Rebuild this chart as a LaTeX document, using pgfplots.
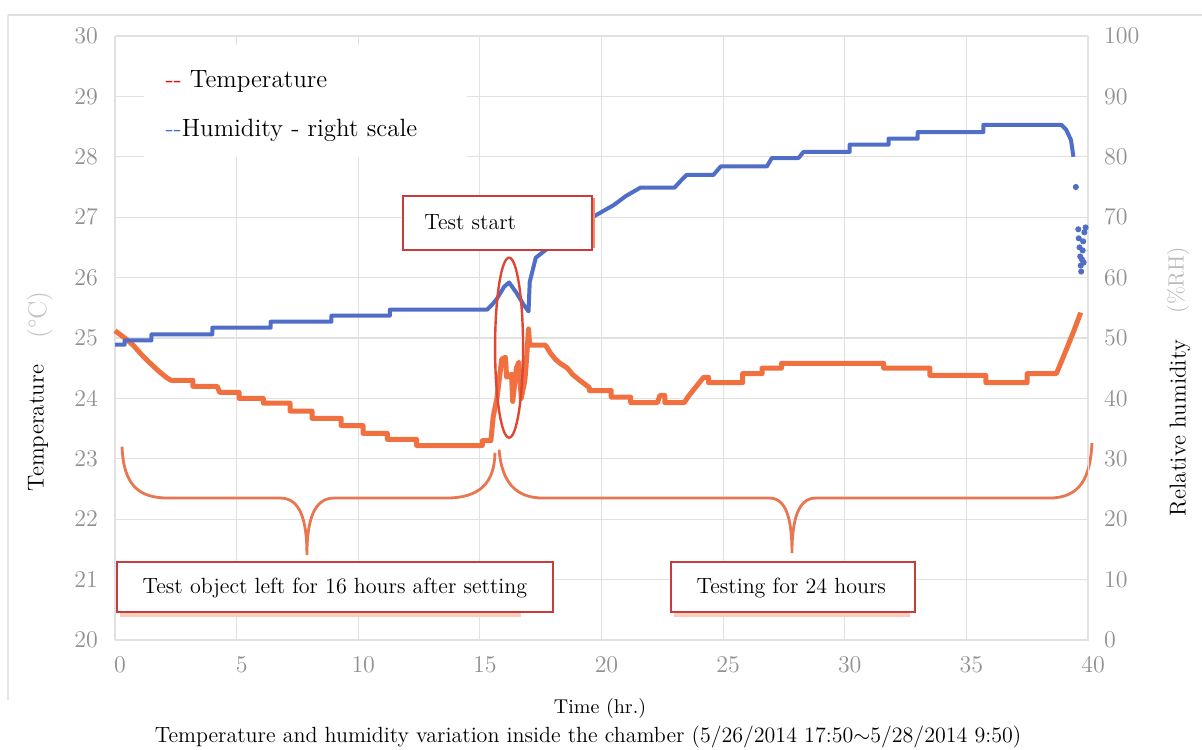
\documentclass[border=0pt]{standalone}
\usepackage{pgfplots}
\pgfplotsset{compat=1.18}
\definecolor{tempc}{RGB}{240,112,64}
\definecolor{humc}{RGB}{80,110,200}
\definecolor{bracec}{RGB}{232,118,80}
\definecolor{ellc}{RGB}{225,70,50}
\definecolor{boxc}{RGB}{200,60,60}
\definecolor{legred}{RGB}{255,0,0}
\definecolor{legblue}{RGB}{68,114,196}
\definecolor{gridc}{RGB}{225,225,225}
\definecolor{tickc}{RGB}{145,145,145}

\begin{document}
\begin{tikzpicture}
\useasboundingbox (-57.5pt,-54.5pt) rectangle (543.5pt,320pt);
\fill[white] (-57.5pt,-54.5pt) rectangle (543.5pt,320pt);
% faint frame of the scanned page
\draw[gray!25, line width=0.8pt] (-53.5pt,312.5pt) -- (543.5pt,312.5pt);
\draw[gray!18, line width=0.8pt] (-53.5pt,312.5pt) -- (-53.5pt,-30pt);

% temperature, left scale
\begin{axis}[
  scale only axis, width=486.5pt, height=302pt,
  xmin=0, xmax=40, ymin=20, ymax=30,
  xtick={0,5,...,40}, ytick={20,21,...,30},
  grid=major, major grid style={gridc, line width=0.6pt},
  axis line style={gridc}, major tick length=0pt,
  ticklabel style={font=\fontsize{13}{15}\selectfont, text=tickc},
  yticklabel style={xshift=-5pt},
  xticklabel style={yshift=-5pt, xshift=2.5pt},
  clip=false,
]
\addplot[tempc, line width=2.5pt, line join=round] coordinates {
(0,25.12)(0.4,25.0)(0.75,24.88)(1.1,24.72)(1.4,24.6)(1.8,24.45)(2.1,24.35)
(2.3,24.3)(3.2,24.3)(3.2,24.2)(4.2,24.2)(4.3,24.1)(5.1,24.1)(5.1,24.0)
(6.1,24.0)(6.1,23.92)(7.2,23.92)(7.2,23.79)(8.1,23.79)(8.1,23.67)(9.3,23.67)
(9.3,23.55)(10.2,23.55)(10.2,23.42)(11.2,23.42)(11.2,23.32)(12.4,23.32)
(12.4,23.22)(15.1,23.22)(15.1,23.3)(15.45,23.3)(15.55,23.7)(15.7,24.0)
(15.9,24.65)(16.05,24.68)(16.1,24.35)(16.3,24.4)(16.35,23.95)(16.5,24.5)
(16.6,24.6)(16.7,24.0)(16.85,24.3)(16.9,24.55)(17.0,25.15)(17.05,24.88)
(17.7,24.88)(17.9,24.75)(18.1,24.65)(18.3,24.58)(18.6,24.5)(18.8,24.4)
(19.1,24.3)(19.5,24.18)(19.5,24.13)(20.4,24.13)(20.4,24.02)(21.2,24.02)
(21.2,23.93)(22.3,23.93)(22.4,24.05)(22.6,24.05)(22.6,23.93)(23.4,23.93)
(23.6,24.05)(23.9,24.2)(24.2,24.35)(24.4,24.35)(24.4,24.26)(25.8,24.26)
(25.8,24.41)(26.6,24.41)(26.6,24.5)(27.4,24.5)(27.4,24.58)(31.6,24.58)
(31.6,24.5)(33.5,24.5)(33.5,24.38)(35.8,24.38)(35.8,24.26)(37.5,24.26)
(37.5,24.41)(38.7,24.41)(39.0,24.7)(39.4,25.1)(39.7,25.42)
};
% braces
\draw[bracec, line width=1.4pt] (0.29,23.2) .. controls (0.35,22.55) and (1.0,22.35) .. (2.2,22.35)
  -- (6.8,22.35) .. controls (7.6,22.35) and (7.89,22.0) .. (7.89,21.41)
  .. controls (7.89,22.0) and (8.2,22.35) .. (9.0,22.35)
  -- (13.6,22.35) .. controls (15.0,22.35) and (15.6,22.6) .. (15.62,23.1);
\draw[bracec, line width=1.4pt] (15.79,23.15) .. controls (15.9,22.6) and (16.5,22.35) .. (17.6,22.35)
  -- (26.9,22.35) .. controls (27.6,22.35) and (27.83,22.0) .. (27.83,21.44)
  .. controls (27.83,22.0) and (28.1,22.35) .. (28.8,22.35)
  -- (38.4,22.35) .. controls (39.7,22.35) and (40.1,22.7) .. (40.16,23.26);
\end{axis}

% humidity, right scale
\begin{axis}[
  scale only axis, width=486.5pt, height=302pt,
  xmin=0, xmax=40, ymin=0, ymax=100,
  axis y line*=right, axis x line=none,
  ytick={0,10,...,100},
  axis line style={gridc}, major tick length=0pt,
  ticklabel style={font=\fontsize{13}{15}\selectfont, text=tickc},
  yticklabel style={xshift=4.5pt},
  clip=false,
]
\addplot[humc, line width=2pt, line join=round] coordinates {
(0,48.9)(0.4,48.9)(0.4,49.6)(1.5,49.6)(1.5,50.6)(4.0,50.6)(4.0,51.7)(6.4,51.7)
(6.4,52.7)(8.9,52.7)(8.9,53.7)(11.3,53.7)(11.3,54.7)(15.3,54.7)(15.5,55.5)
(15.7,56.5)(16.0,58.5)(16.2,59.2)(16.5,57.5)(16.8,55.5)(17.0,54.4)(17.05,59.3)
(17.3,63.3)(18.0,65.5)(19.0,68.5)(19.8,70.4)(20.5,72)(21.0,73.5)(21.6,74.9)
(23.0,74.9)(23.3,76.2)(23.5,77)(24.6,77)(24.9,78.4)(26.8,78.4)(27.0,79.8)
(28.1,79.8)(28.3,80.8)(30.2,80.8)(30.2,82)(31.8,82)(31.8,83)(33.0,83)(33.0,84.1)
(35.7,84.1)(35.7,85.3)(38.9,85.3)(39.1,84.5)(39.3,82.8)(39.4,80)
};
\addplot[humc, only marks, mark=*, mark size=1.3pt] coordinates {
(39.5,75)(39.6,68)(39.62,66.5)(39.65,65)(39.68,63.5)(39.7,62)(39.72,61)
(39.75,63)(39.78,64.5)(39.8,66)(39.85,67.5)(39.9,68.3)(39.82,62.5)
};
% ellipse round the test start
\draw[ellc, line width=1.2pt] (16.2,48.4) ellipse [x radius=7pt, y radius=45pt];
% annotation boxes
\draw[tempc!35, line width=2pt] (0.2,4.1) -- (16.7,4.1);
\draw[tempc!35, line width=2pt] (23.0,4.1) -- (32.7,4.1);
\draw[boxc, line width=0.8pt, fill=white] (11.84,73.5) rectangle (19.61,64.6);
\draw[tempc!80, line width=1.2pt] (19.7,73.2) -- (19.7,64.9);
\node[anchor=west, inner sep=0, font=\fontsize{11}{13}\selectfont] at (12.7,69.2) {Test start};
\draw[boxc, line width=0.8pt, fill=white] (0.08,12.9) rectangle (18.0,4.6);
\node[font=\fontsize{11}{13}\selectfont] at (9.04,8.6) {Test object left for 16 hours after setting};
\draw[boxc, line width=0.8pt, fill=white] (22.86,12.9) rectangle (32.89,4.6);
\node[font=\fontsize{11}{13}\selectfont] at (27.8,8.6) {Testing for 24 hours};
% legend box
\fill[white] (1.19,98.5) rectangle (14.47,80.0);
\node[anchor=west, inner sep=0, font=\fontsize{12.5}{15}\selectfont] at (2.06,92.5)
  {\textcolor{legred}{-{}-} Temperature};
\node[anchor=west, inner sep=0, font=\fontsize{12.5}{15}\selectfont] at (2.06,84.4)
  {\textcolor{legblue}{-{}-}Humidity - right scale};
\end{axis}

% axis titles and caption
\node[rotate=90, text=gray!45, font=\fontsize{13}{15}\selectfont] at (-37.5pt,162.5pt) {(\textdegree C)};
\node[rotate=90, font=\fontsize{11.5}{13}\selectfont] at (-38.5pt,106pt) {Temperature};
\node[rotate=90, text=gray!55, font=\fontsize{11}{13}\selectfont] at (531.5pt,180pt) {(\%RH)};
\node[rotate=90, font=\fontsize{11.5}{13}\selectfont] at (532.5pt,106pt) {Relative humidity};
\node[font=\fontsize{10}{12}\selectfont] at (242.5pt,-34pt) {Time (hr.)};
\node[font=\fontsize{11}{13}\selectfont] at (236.5pt,-48.5pt)
  {Temperature and humidity variation inside the chamber (5/26/2014 17:50$\sim$5/28/2014 9:50)};
\end{tikzpicture}
\end{document}
